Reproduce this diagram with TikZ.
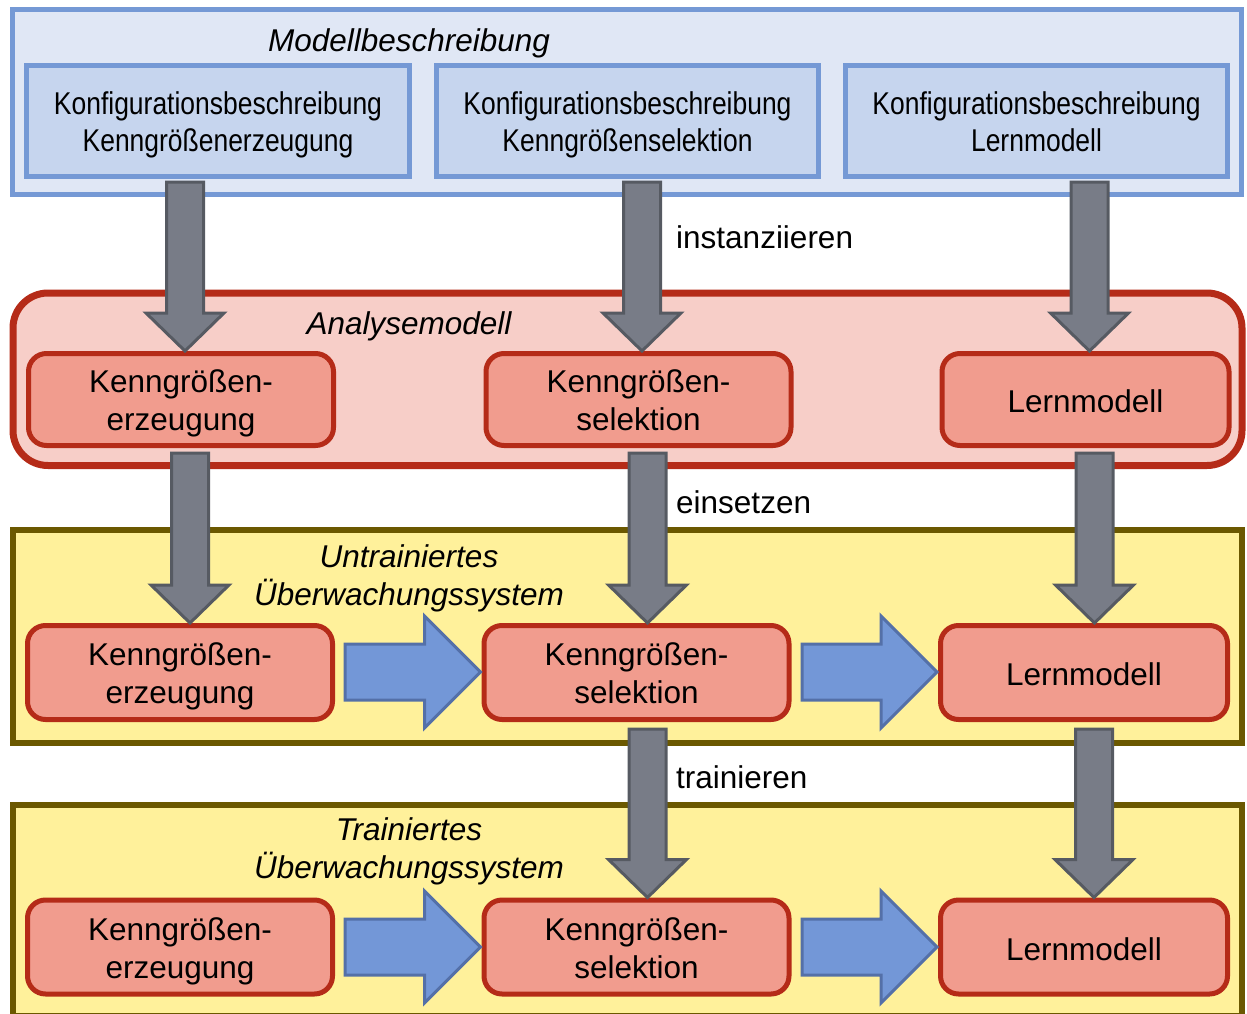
\documentclass[tikz,border=0pt]{standalone}
\usepackage{fontspec}
\setmainfont{Liberation Sans}
\newfontfamily\narrowfont[FakeStretch=0.84]{Liberation Sans}
\usetikzlibrary{calc}

\definecolor{descfill}{HTML}{E0E7F5}
\definecolor{descinner}{HTML}{C6D5EE}
\definecolor{descline}{HTML}{7599D5}
\definecolor{anafill}{HTML}{F7CEC8}
\definecolor{redline}{HTML}{B52B18}
\definecolor{redfill}{HTML}{F19C8E}
\definecolor{sysfill}{HTML}{FFF19B}
\definecolor{sysline}{HTML}{6B5800}
\definecolor{grayfill}{HTML}{787C87}
\definecolor{grayline}{HTML}{565A62}
\definecolor{bluefill}{HTML}{7397D7}
\definecolor{blueline}{HTML}{5470A8}

\tikzset{
  txt/.style={font=\fontsize{31.5}{38}\selectfont, inner sep=0pt},
  ttl/.style={txt, font=\fontsize{31.5}{38}\selectfont\itshape, align=center, yshift=-3pt},
  cfgbox/.style={draw=descline, fill=descinner, line width=5pt,
    minimum width=382pt, minimum height=110pt},
  cfgtext/.style={align=center, inner sep=0pt, yshift=-4pt,
    font=\narrowfont\fontsize{31.5}{37}\selectfont},
  modbox/.style={draw=redline, fill=redfill, line width=5pt, rounded corners=18pt,
    minimum width=305pt, minimum height=94pt},
  modtext/.style={align=center, inner sep=0pt, yshift=-4pt,
    font=\fontsize{31.5}{38}\selectfont},
  onetext/.style={align=center, inner sep=0pt, yshift=-2pt,
    font=\fontsize{31.5}{38}\selectfont},
  garr/.style={draw=grayline, fill=grayfill, line width=3pt, line join=miter},
  barr/.style={draw=blueline, fill=bluefill, line width=3pt, line join=miter},
}

% downward block arrow from #1 to the tip #2
\newcommand\garrow[2]{%
  \draw[garr] let \p1=#1, \p2=#2 in
    (\x1-18.5pt,\y1) -- (\x1+18.5pt,\y1) -- (\x1+18.5pt,\y2+38pt)
    -- (\x1+39pt,\y2+38pt) -- (\x1,\y2) -- (\x1-39pt,\y2+38pt)
    -- (\x1-18.5pt,\y2+38pt) -- cycle;}
% rightward block arrow from #1 to the tip #2
\newcommand\barrow[2]{%
  \draw[barr] let \p1=#1, \p2=#2 in
    (\x1,\y1+28pt) -- (\x2-56pt,\y1+28pt) -- (\x2-56pt,\y1+56pt)
    -- (\x2,\y1) -- (\x2-56pt,\y1-56pt) -- (\x2-56pt,\y1-28pt)
    -- (\x1,\y1-28pt) -- cycle;}

\begin{document}
\begin{tikzpicture}[x=1pt,y=-1pt]
\useasboundingbox (0,0) rectangle (1247,1014);

% layer frames
\draw[draw=descline, fill=descfill, line width=5pt] (12,10) rectangle (1241,194);
\draw[draw=redline, fill=anafill, line width=7pt, rounded corners=35pt] (13,293) rectangle (1242,465.5);
\draw[draw=sysline, fill=sysfill, line width=6pt] (12.5,530) rectangle (1242,743);
\draw[draw=sysline, fill=sysfill, line width=6pt] (12.5,805) rectangle (1242,1016);

% titles
\node[ttl] (tdesc) at (409,40) {Modellbeschreibung};
\node[ttl] (tana) at (409,323) {Analysemodell};
\node[ttl] (tunt) at (409,575) {Untrainiertes\\Überwachungssystem};
\node[ttl] (ttra) at (409,848) {Trainiertes\\Überwachungssystem};

% configuration descriptions
\node[cfgbox, minimum width=383.5pt, label={[cfgtext]center:{Konfigurationsbeschreibung\\Kenngrößenerzeugung}}] (c1) at (218,121) {};
\node[cfgbox, label={[cfgtext]center:{Konfigurationsbeschreibung\\Kenngrößenselektion}}] (c2) at (627.5,121) {};
\node[cfgbox, label={[cfgtext]center:{Konfigurationsbeschreibung\\Lernmodell\vphantom{g}}}] (c3) at (1036.5,121) {};

% analysis model
\node[modbox, minimum height=92pt, label={[modtext]center:{Kenngrößen-\\erzeugung}}] (a1) at (181,399.5) {};
\node[modbox, minimum height=92pt, label={[modtext]center:{Kenngrößen-\\selektion\vphantom{g}}}] (a2) at (638.5,399.5) {};
\node[modbox, minimum height=92pt, minimum width=287pt, label={[onetext]center:Lernmodell}] (a3) at (1085.5,399.5) {};

% untrained monitoring system
\node[modbox, label={[modtext]center:{Kenngrößen-\\erzeugung}}] (u1) at (180,672.5) {};
\node[modbox, label={[modtext]center:{Kenngrößen-\\selektion\vphantom{g}}}] (u2) at (636.5,672.5) {};
\node[modbox, minimum width=287pt, label={[onetext]center:Lernmodell}] (u3) at (1084,672.5) {};

% trained monitoring system
\node[modbox, label={[modtext]center:{Kenngrößen-\\erzeugung}}] (r1) at (180,947) {};
\node[modbox, label={[modtext]center:{Kenngrößen-\\selektion\vphantom{g}}}] (r2) at (636.5,947) {};
\node[modbox, minimum width=287pt, label={[onetext]center:Lernmodell}] (r3) at (1084,947) {};

% starting points of the vertical arrows
\coordinate (g1) at (185,182);
\coordinate (g2) at (642,182);
\coordinate (g3) at (1089.5,182);
\coordinate (g4) at (190,453);
\coordinate (g5) at (647.5,453);
\coordinate (g6) at (1094.5,453);
\coordinate (g7) at (647.5,729);
\coordinate (g8) at (1094,729);

\garrow{(g1)}{(g1 |- a1.north)}
\garrow{(g2)}{(g2 |- a2.north)}
\garrow{(g3)}{(g3 |- a3.north)}
\garrow{(g4)}{(g4 |- u1.north)}
\garrow{(g5)}{(g5 |- u2.north)}
\garrow{(g6)}{(g6 |- u3.north)}
\garrow{(g7)}{(g7 |- r2.north)}
\garrow{(g8)}{(g8 |- r3.north)}

% data flow inside the systems
\coordinate (b1) at (345,672);
\coordinate (b2) at (802,672);
\coordinate (b3) at (345,947);
\coordinate (b4) at (802,947);
\barrow{(b1)}{($(b1 -| u2.west)+(-1,0)$)}
\barrow{(b2)}{($(b2 -| u3.west)+(-1,0)$)}
\barrow{(b3)}{($(b3 -| r2.west)+(-1,0)$)}
\barrow{(b4)}{($(b4 -| r3.west)+(-1,0)$)}

% step labels
\node[txt, anchor=west] (l1) at (676,237) {instanziieren};
\node[txt, anchor=west] (l2) at (676,502) {einsetzen};
\node[txt, anchor=west] (l3) at (676,777) {trainieren};
\end{tikzpicture}
\end{document}
